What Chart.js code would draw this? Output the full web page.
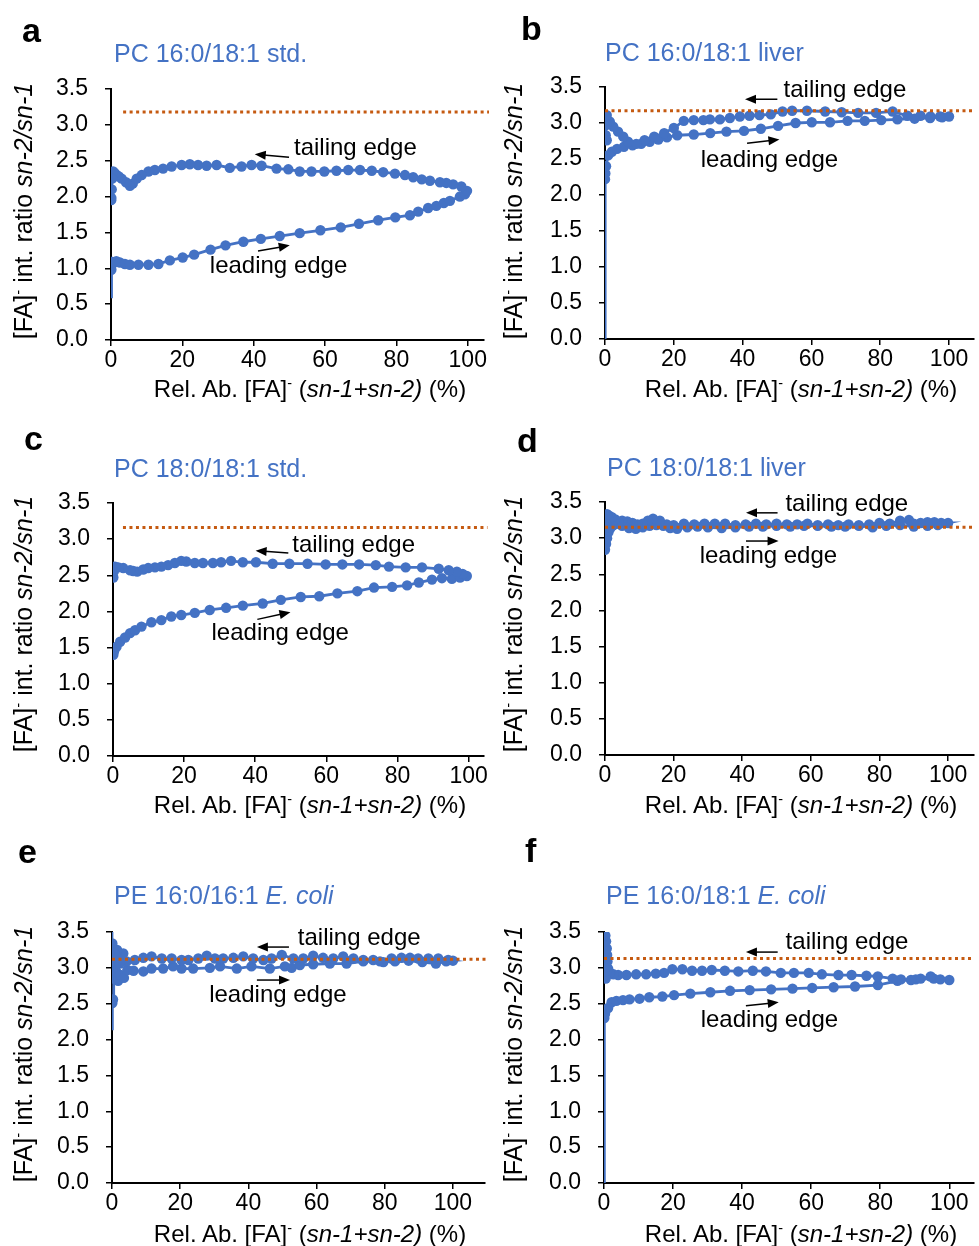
<!DOCTYPE html>
<html>
<head>
<meta charset="utf-8">
<script src="https://cdn.jsdelivr.net/npm/chart.js@4.4.1/dist/chart.umd.min.js"></script>
<style>
body { margin: 0; background: #fff; }
#fig { position: relative; width: 979px; height: 1246px; overflow: hidden; font-family: "Liberation Sans", Arial, Helvetica, sans-serif; }
canvas { position: absolute; }
.txt { position: absolute; white-space: nowrap; line-height: 1; z-index: 2; }
.letter { font-weight: bold; font-size: 34px; color: #000; }
.ttl { font-size: 25px; color: #4472C4; }
.xt { font-size: 24px; color: #000; transform: translateX(-50%); }
.yt { font-size: 25px; color: #000; transform: translate(-50%, -50%) rotate(-90deg); }
sup { font-size: 0.6em; vertical-align: 0.6em; line-height: 0; }
</style>
</head>
<body>
<div id="fig"></div>
<script>
// tick values shared by all six panels
const xTicks = [0, 20, 40, 60, 80, 100];
const yTicks = [0, 0.5, 1, 1.5, 2, 2.5, 3, 3.5];

// a: PC 16:0/18:1 std.
const aLeadX = [0.1, 0.2, 0.4, 0.8, 1.5, 2.5, 3.9, 5.3, 7.7, 10.5, 13.3, 16.5, 20.1, 23.3, 27.9, 32.1, 37.1, 42.0, 47.3, 52.9, 58.7, 64.4, 69.5, 74.9, 79.7, 83.8, 86.1, 88.9, 91.2, 93.3, 95.0, 97.8, 99.2];
const aLeadY = [0.98, 1.05, 1.09, 1.08, 1.10, 1.08, 1.06, 1.05, 1.05, 1.05, 1.06, 1.11, 1.15, 1.19, 1.26, 1.32, 1.37, 1.41, 1.45, 1.49, 1.53, 1.57, 1.62, 1.67, 1.71, 1.74, 1.79, 1.84, 1.87, 1.91, 1.94, 2.00, 2.03];
const aTailX = [99.8, 98.2, 95.9, 94.0, 92.2, 89.4, 87.1, 84.7, 82.4, 79.6, 76.3, 73.1, 69.8, 66.5, 63.2, 59.8, 56.2, 52.9, 49.7, 46.4, 42.2, 39.4, 36.6, 33.3, 29.6, 26.8, 24.4, 22.1, 19.8, 17.0, 14.6, 12.3, 10.5, 8.6, 7.2, 6.1, 5.3, 4.2, 3.0, 2.2, 1.6, 1.0, 0.6, 0.3, 0.2, 0.1, 0.05];
const aTailY = [2.08, 2.14, 2.17, 2.19, 2.20, 2.22, 2.24, 2.27, 2.30, 2.32, 2.34, 2.36, 2.37, 2.37, 2.36, 2.35, 2.35, 2.35, 2.38, 2.39, 2.43, 2.44, 2.42, 2.40, 2.44, 2.43, 2.44, 2.45, 2.44, 2.42, 2.39, 2.37, 2.35, 2.30, 2.25, 2.18, 2.15, 2.20, 2.25, 2.28, 2.30, 2.33, 2.35, 2.25, 2.10, 1.98, 1.95];

// b: PC 16:0/18:1 liver
const bLeadX = [0, 0.1, 0.3, 0.9, 2.0, 3.5, 5.5, 8.0, 10.5, 13.0, 15.5, 18.0, 21.0, 25.8, 30.6, 35.3, 40.4, 45.3, 50.3, 55.4, 60.1, 65.4, 70.5, 75.5, 80.3, 85.0, 90.0, 94.5, 98.0];
const bLeadY = [2.22, 2.30, 2.40, 2.55, 2.60, 2.64, 2.67, 2.69, 2.71, 2.74, 2.77, 2.80, 2.83, 2.84, 2.86, 2.88, 2.89, 2.92, 2.96, 3.00, 3.01, 3.01, 3.03, 3.03, 3.04, 3.05, 3.06, 3.07, 3.08];
const bTailX = [100, 97.4, 94.6, 91.7, 87.9, 83.6, 78.8, 73.6, 68.8, 64.0, 58.7, 54.4, 51.6, 48.2, 44.9, 42.0, 39.2, 36.3, 33.4, 30.5, 28.6, 25.8, 22.9, 20.0, 17.2, 14.3, 11.5, 9.1, 6.7, 5.3, 3.8, 2.4, 1.4, 0.5, 0.3, 0.2, 0.5];
const bTailY = [3.09, 3.09, 3.09, 3.10, 3.10, 3.16, 3.14, 3.14, 3.15, 3.16, 3.17, 3.17, 3.16, 3.12, 3.11, 3.10, 3.09, 3.07, 3.05, 3.05, 3.04, 3.04, 3.03, 2.93, 2.86, 2.81, 2.76, 2.71, 2.74, 2.81, 2.88, 2.95, 3.02, 3.11, 2.97, 2.83, 2.76];

// c: PC 18:0/18:1 std.
const cLeadX = [0.1, 0.3, 1.0, 2.0, 3.4, 4.8, 6.2, 8.0, 10.8, 13.6, 16.4, 19.2, 23.0, 27.2, 31.8, 36.5, 42.1, 47.2, 52.8, 58.0, 63.1, 68.7, 73.4, 78.5, 82.7, 86.0, 89.7, 92.5, 95.3, 97.6];
const cLeadY = [1.40, 1.45, 1.51, 1.58, 1.64, 1.70, 1.74, 1.79, 1.85, 1.88, 1.93, 1.95, 1.98, 2.02, 2.05, 2.08, 2.11, 2.16, 2.20, 2.21, 2.25, 2.28, 2.33, 2.34, 2.36, 2.40, 2.44, 2.46, 2.45, 2.47];
const cTailX = [99.5, 98.3, 96.7, 94.4, 91.6, 86.9, 82.3, 77.6, 73.9, 69.2, 64.5, 59.8, 54.7, 49.6, 44.9, 40.2, 36.5, 33.2, 30.4, 28.1, 25.3, 23.0, 20.6, 19.2, 17.4, 15.5, 13.6, 11.8, 9.9, 8.5, 6.8, 5.7, 4.8, 2.9, 1.5, 0.6, 0.2, 0.1];
const cTailY = [2.49, 2.52, 2.55, 2.57, 2.59, 2.61, 2.61, 2.62, 2.64, 2.65, 2.65, 2.65, 2.66, 2.66, 2.66, 2.68, 2.68, 2.70, 2.68, 2.67, 2.67, 2.67, 2.69, 2.70, 2.67, 2.64, 2.62, 2.61, 2.60, 2.58, 2.55, 2.56, 2.57, 2.60, 2.61, 2.62, 2.55, 2.47];

// d: PC 18:0/18:1 liver
const dLeadX = [0, 0.3, 0.6, 1.0, 1.6, 2.5, 3.5, 5, 7, 9, 11, 13, 15, 17, 19, 21, 24, 27, 30, 34, 38, 42, 46, 50, 54, 58, 62, 66, 70, 74, 78, 82, 86, 90, 94, 97, 100];
const dLeadY = [2.84, 2.92, 3.00, 3.08, 3.14, 3.18, 3.20, 3.17, 3.14, 3.13, 3.15, 3.17, 3.18, 3.17, 3.14, 3.13, 3.15, 3.16, 3.15, 3.14, 3.15, 3.16, 3.16, 3.17, 3.16, 3.17, 3.17, 3.16, 3.16, 3.17, 3.15, 3.17, 3.18, 3.16, 3.17, 3.18, 3.21];
const dTailX = [98, 96, 94, 92, 90, 88.6, 86, 83, 80, 77, 74, 71, 68, 65, 62, 59, 56, 53, 50, 47, 44, 41, 38, 35, 32, 29, 26, 23, 20, 18, 16, 14, 12.5, 11, 9.5, 8, 6.5, 5, 4, 3, 2, 1.2, 0.6, 0.2];
const dTailY = [3.21, 3.22, 3.22, 3.21, 3.20, 3.25, 3.24, 3.20, 3.21, 3.19, 3.18, 3.19, 3.18, 3.19, 3.18, 3.20, 3.19, 3.19, 3.20, 3.19, 3.20, 3.19, 3.18, 3.20, 3.20, 3.20, 3.19, 3.20, 3.18, 3.19, 3.24, 3.27, 3.24, 3.20, 3.19, 3.21, 3.23, 3.24, 3.22, 3.26, 3.29, 3.31, 3.33, 3.20];

// e: PE 16:0/16:1 E. coli
const eLeadX = [0.1, 0.3, 0.5, 0.8, 1.2, 1.8, 2.5, 3.5, 4.5, 6.3, 9.2, 11.6, 15.0, 17.9, 20.4, 23.8, 28.7, 31.7, 36.6, 40.9, 46.3, 50.7, 52.7, 55.1, 59.0, 63.9, 68.8, 73.7, 78.6, 83.0, 87.0, 91.0, 95.0, 98.0, 100];
const eLeadY = [2.51, 2.56, 2.85, 3.05, 2.95, 2.82, 2.90, 2.86, 2.97, 2.96, 2.95, 2.99, 2.99, 3.02, 2.99, 2.99, 3.00, 3.02, 2.99, 3.02, 2.99, 3.02, 3.00, 3.04, 3.05, 3.06, 3.06, 3.09, 3.09, 3.09, 3.10, 3.08, 3.06, 3.09, 3.10];
const eTailX = [98.6, 95.7, 92.8, 89.8, 87.4, 84.9, 82.0, 79.6, 76.6, 73.7, 70.8, 67.8, 64.9, 61.9, 59.0, 56.1, 53.2, 49.8, 46.8, 44.4, 41.4, 38.5, 35.6, 32.6, 30.2, 27.8, 25.3, 22.4, 20.4, 17.5, 14.6, 11.6, 9.2, 6.7, 4.3, 3.3, 2.3, 1.5, 0.9, 0.4, 0.1];
const eTailY = [3.11, 3.13, 3.13, 3.13, 3.14, 3.14, 3.13, 3.08, 3.11, 3.11, 3.13, 3.16, 3.13, 3.14, 3.17, 3.13, 3.13, 3.18, 3.13, 3.11, 3.13, 3.16, 3.14, 3.13, 3.13, 3.17, 3.13, 3.11, 3.11, 3.13, 3.13, 3.16, 3.14, 3.11, 3.09, 3.20, 3.06, 3.25, 3.18, 3.27, 3.34];

// f: PE 16:0/18:1 E. coli
const fLeadX = [0.1, 0.3, 1.2, 2.2, 3.6, 5.5, 7.4, 10.3, 13.1, 16.9, 20.3, 25.0, 30.8, 36.5, 42.2, 48.4, 54.6, 60.3, 66.5, 72.7, 79.3, 85.0, 90.3, 95.5];
const fLeadY = [2.30, 2.36, 2.44, 2.52, 2.54, 2.55, 2.56, 2.57, 2.59, 2.60, 2.62, 2.64, 2.66, 2.68, 2.69, 2.70, 2.71, 2.72, 2.73, 2.74, 2.76, 2.82, 2.84, 2.85];
const fTailX = [100, 97.4, 94.6, 91.7, 88.9, 86.0, 83.6, 79.3, 76.0, 71.7, 67.9, 63.1, 59.3, 55.0, 51.2, 46.9, 43.1, 38.9, 35.0, 31.2, 28.4, 25.5, 22.7, 19.8, 17.4, 15.0, 12.2, 9.3, 6.5, 4.1, 2.7, 1.7, 1.2, 1.0, 0.9, 0.8, 0.6, 0.4, 0.3, 0.5, 0.2];
const fTailY = [2.83, 2.84, 2.88, 2.85, 2.83, 2.84, 2.85, 2.88, 2.89, 2.90, 2.90, 2.91, 2.93, 2.93, 2.93, 2.95, 2.96, 2.95, 2.96, 2.97, 2.96, 2.96, 2.98, 2.98, 2.93, 2.92, 2.91, 2.91, 2.90, 2.90, 2.91, 2.93, 2.99, 3.09, 3.18, 3.27, 3.37, 3.45, 3.00, 2.85, 2.95];

// theoretical ratio (dotted line), one per panel
const refLevels = [3.18, 3.17, 3.16, 3.15, 3.12, 3.13];
// unmarked end points of the trace on the y axis (null = none)
const startLevels = [0.6, 0, null, null, 2.15, 0];
const endLevels = [null, null, null, null, 3.5, null];

const titles = ['PC 16:0/18:1 std.', 'PC 16:0/18:1 liver', 'PC 18:0/18:1 std.', 'PC 18:0/18:1 liver',
  'PE 16:0/16:1 <i>E. coli</i>', 'PE 16:0/18:1 <i>E. coli</i>'];
const letters = ['a', 'b', 'c', 'd', 'e', 'f'];

const BLUE = '#4472C4';
const ORANGE = '#C55A11';
const FONT = '"Liberation Sans", Arial, Helvetica, sans-serif';
const XH = 40;

// layout of each panel (page pixels), plus label spots in data units
const layout = [
  { cell: [0, 0, 489, 415], area: [111, 89, 484, 340], xMax: 104.5, ref: [3.4, 106],
    letter: [22, 42], title: [114, 62], yTitle: [23, 211], xTitle: [310, 397],
    tail: [51.3, 2.58], tailArrow: [49.9, 2.55, 40.3, 2.59], lead: [27.7, 0.93], leadArrow: [41.2, 1.24, 50.1, 1.32] },
  { cell: [490, 0, 489, 415], area: [605, 87, 979, 339], xMax: 107.2, ref: [0, 107.2],
    letter: [521, 40], title: [605, 61], yTitle: [513, 211], xTitle: [801, 397],
    tail: [51.9, 3.36], tailArrow: [50.1, 3.33, 40.7, 3.33], lead: [27.8, 2.39], leadArrow: [41.3, 2.72, 50.7, 2.77] },
  { cell: [0, 415, 489, 415], area: [113, 503, 485, 756], xMax: 104.2, ref: [2.8, 105.3],
    letter: [24, 450], title: [114, 477], yTitle: [23, 624], xTitle: [310, 813],
    tail: [50.4, 2.82], tailArrow: [49.3, 2.81, 40.1, 2.84], lead: [27.7, 1.60], leadArrow: [40.6, 1.89, 49.9, 1.99] },
  { cell: [490, 415, 489, 415], area: [605, 502, 979, 755], xMax: 107.5, ref: [0, 107.5],
    letter: [517, 452], title: [607, 476], yTitle: [513, 624], xTitle: [801, 813],
    tail: [52.6, 3.37], tailArrow: [50.3, 3.35, 41.1, 3.35], lead: [27.6, 2.66], leadArrow: [41.1, 2.96, 50.6, 2.96] },
  { cell: [0, 830, 489, 416], area: [112, 932, 485, 1183], xMax: 109.4, ref: [0, 110.6],
    letter: [18, 863], title: [114, 904], yTitle: [23, 1054], xTitle: [310, 1242],
    tail: [54.5, 3.32], tailArrow: [51.9, 3.29, 42.5, 3.29], lead: [28.5, 2.52], leadArrow: [42.5, 2.83, 52.2, 2.83] },
  { cell: [490, 830, 489, 416], area: [604, 932, 979, 1183], xMax: 107.1, ref: [0, 107.1],
    letter: [525, 862], title: [606, 904], yTitle: [513, 1054], xTitle: [801, 1242],
    tail: [52.6, 3.26], tailArrow: [50.3, 3.22, 41.1, 3.22], lead: [28.0, 2.18], leadArrow: [41.1, 2.47, 50.6, 2.52] }
];

const series = [
  [aLeadX, aLeadY, aTailX, aTailY],
  [bLeadX, bLeadY, bTailX, bTailY],
  [cLeadX, cLeadY, cTailX, cTailY],
  [dLeadX, dLeadY, dTailX, dTailY],
  [eLeadX, eLeadY, eTailX, eTailY],
  [fLeadX, fLeadY, fTailX, fTailY]
];

const fig = document.getElementById('fig');

function addText(html, cls, x, baseline, size) {
  const d = document.createElement('div');
  d.className = 'txt ' + cls;
  d.innerHTML = html;
  d.style.left = x + 'px';
  d.style.top = (baseline - 0.85 * size) + 'px';
  fig.appendChild(d);
}

function drawArrow(ctx, x1, y1, x2, y2) {
  const ang = Math.atan2(y2 - y1, x2 - x1);
  const hl = 11, hw = 4.5;
  ctx.lineWidth = 1.5;
  ctx.beginPath();
  ctx.moveTo(x1, y1);
  ctx.lineTo(x2 - Math.cos(ang) * hl * 0.8, y2 - Math.sin(ang) * hl * 0.8);
  ctx.stroke();
  ctx.beginPath();
  ctx.moveTo(x2, y2);
  ctx.lineTo(x2 - hl * Math.cos(ang) + hw * Math.sin(ang), y2 - hl * Math.sin(ang) - hw * Math.cos(ang));
  ctx.lineTo(x2 - hl * Math.cos(ang) - hw * Math.sin(ang), y2 - hl * Math.sin(ang) + hw * Math.cos(ang));
  ctx.closePath();
  ctx.fill();
}

function edgeLabels(L) {
  return {
    id: 'edgeLabels',
    afterDatasetsDraw: function(chart) {
      const xs = chart.scales.x, ys = chart.scales.y, ctx = chart.ctx;
      const px = function(v) { return xs.getPixelForValue(v); };
      const py = function(v) { return ys.getPixelForValue(v); };
      ctx.save();
      ctx.fillStyle = '#000';
      ctx.strokeStyle = '#000';
      ctx.font = '24px ' + FONT;
      ctx.textAlign = 'left';
      ctx.textBaseline = 'alphabetic';
      ctx.fillText('tailing edge', px(L.tail[0]), py(L.tail[1]));
      ctx.fillText('leading edge', px(L.lead[0]), py(L.lead[1]));
      drawArrow(ctx, px(L.tailArrow[0]), py(L.tailArrow[1]), px(L.tailArrow[2]), py(L.tailArrow[3]));
      drawArrow(ctx, px(L.leadArrow[0]), py(L.leadArrow[1]), px(L.leadArrow[2]), py(L.leadArrow[3]));
      ctx.restore();
    }
  };
}

layout.forEach(function(L, i) {
  const [cx, cy, cw, ch] = L.cell;
  const [al, at, ar, ab] = L.area;
  const s = series[i];

  const pts = [];
  if (startLevels[i] !== null) pts.push({ x: 0, y: startLevels[i], bare: true });
  s[0].forEach(function(x, k) { pts.push({ x: x, y: s[1][k] }); });
  s[2].forEach(function(x, k) { pts.push({ x: x, y: s[3][k] }); });
  if (endLevels[i] !== null) pts.push({ x: 0, y: endLevels[i], bare: true });

  const canvas = document.createElement('canvas');
  canvas.width = cw;
  canvas.height = ch;
  canvas.style.left = cx + 'px';
  canvas.style.top = cy + 'px';
  fig.appendChild(canvas);

  new Chart(canvas, {
    type: 'scatter',
    data: {
      datasets: [
        {
          data: [{ x: L.ref[0], y: refLevels[i] }, { x: L.ref[1], y: refLevels[i] }],
          showLine: true,
          borderColor: ORANGE,
          borderWidth: 3,
          borderDash: [3, 3.5],
          pointRadius: 0,
          clip: false
        },
        {
          data: pts,
          showLine: true,
          borderColor: BLUE,
          backgroundColor: BLUE,
          pointBackgroundColor: BLUE,
          borderWidth: 2.8,
          pointBorderWidth: 0,
          pointRadius: function(c) { return c.raw && c.raw.bare ? 0 : 5.2; },
          pointHoverRadius: 0
        }
      ]
    },
    options: {
      responsive: false,
      animation: false,
      events: [],
      layout: { padding: { left: 0, top: at - cy, right: cx + cw - ar, bottom: cy + ch - ab - XH } },
      plugins: { legend: { display: false }, tooltip: { enabled: false } },
      scales: {
        x: {
          type: 'linear',
          min: 0,
          max: L.xMax,
          afterBuildTicks: function(sc) { sc.ticks = xTicks.map(function(v) { return { value: v }; }); },
          afterFit: function(sc) { sc.height = XH; },
          grid: { display: true, drawOnChartArea: false, drawTicks: true, tickLength: 6, color: '#000', lineWidth: 1.5 },
          border: { display: true, color: '#000', width: 2 },
          ticks: { color: '#000', font: { size: 23, family: FONT }, padding: 1, maxRotation: 0, autoSkip: false }
        },
        y: {
          type: 'linear',
          min: 0,
          max: 3.5,
          afterBuildTicks: function(sc) { sc.ticks = yTicks.map(function(v) { return { value: v }; }); },
          afterFit: function(sc) { sc.width = al - cx; },
          grid: { display: true, drawOnChartArea: false, drawTicks: true, tickLength: 6, color: '#000', lineWidth: 1.5 },
          border: { display: true, color: '#000', width: 2 },
          ticks: { color: '#000', font: { size: 23, family: FONT }, padding: 17,
            callback: function(v) { return Number(v).toFixed(1); } }
        }
      }
    },
    plugins: [edgeLabels(L)]
  });

  addText(letters[i], 'letter', L.letter[0], L.letter[1], 34);
  addText(titles[i], 'ttl', L.title[0], L.title[1], 25);
  addText('Rel. Ab. [FA]<sup>-</sup> (<i>sn-1+sn-2)</i> (%)', 'xt', L.xTitle[0], L.xTitle[1], 24);

  const yt = document.createElement('div');
  yt.className = 'txt yt';
  yt.innerHTML = '[FA]<sup>-</sup> int. ratio <i>sn-2/sn-1</i>';
  yt.style.left = L.yTitle[0] + 'px';
  yt.style.top = L.yTitle[1] + 'px';
  fig.appendChild(yt);
});
</script>
</body>
</html>
